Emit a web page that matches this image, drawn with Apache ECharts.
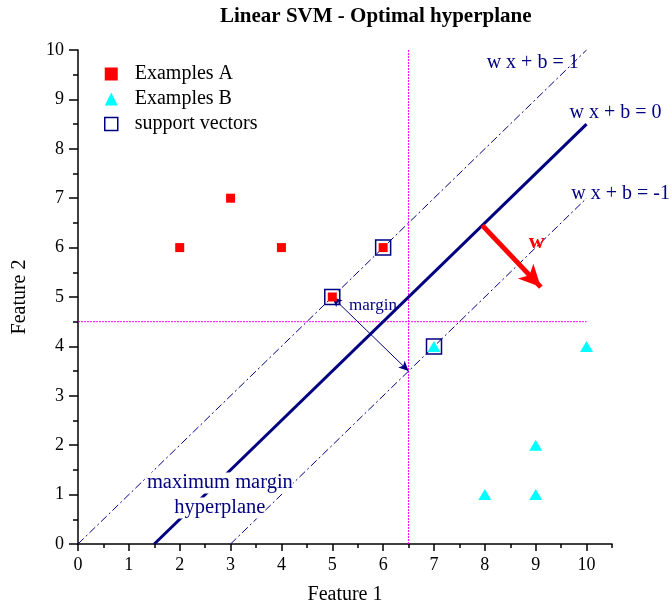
<!DOCTYPE html>
<html><head><meta charset="utf-8">
<script src="https://cdn.jsdelivr.net/npm/echarts@6/dist/echarts.min.js"></script>
<style>html,body{margin:0;padding:0;background:#fff}#c{width:672px;height:612px}</style>
</head><body><div id="c"></div>
<script>
// ---- data ----
const classAX = [2, 3, 4, 5, 6];
const classAY = [6, 7, 6, 5, 6];
const classBX = [7, 8, 9, 9, 10];
const classBY = [4, 1, 1, 2, 4];
const supportX = [5, 6, 7];
const supportY = [5, 6, 4];
const planeNames = ['w x + b = 1', 'w x + b = 0', 'w x + b = -1'];
const planeX0 = [0, 1.5, 3];
const planeY0 = [0, 0, 0];
const planeX1 = [10, 10, 10];
const planeY1 = [10, 8.5, 7];
const guideX = 6.5;
const guideY = 4.5;
const wArrowFrom = [7.95, 6.45];
const wArrowTo = [9.1, 5.2];
const marginFrom = [5, 5];
const marginTo = [6.5, 3.5];
const noteTexts = ['w x + b = 1', 'w x + b = 0', 'w x + b = -1', 'margin', 'w', 'maximum margin\nhyperplane'];
const noteX = [8.94, 10.57, 10.67, 5.80, 9.02, 2.79];
const noteY = [9.74, 8.72, 7.10, 4.82, 6.11, 0.98];

const NAVY = '#000080';
const FONT = 'Liberation Serif';
const zip = (a, b) => a.map((v, i) => [v, b[i]]);

const chart = echarts.init(document.getElementById('c'), null, {renderer: 'canvas'});

const planeSeries = planeNames.map((n, i) => ({
  type: 'line', name: n, xAxisIndex: 0, yAxisIndex: 0,
  data: [[planeX0[i], planeY0[i]], [planeX1[i], planeY1[i]]],
  showSymbol: false, silent: true, z: 3,
  lineStyle: i === 1 ? {color: NAVY, width: 3} : {color: NAVY, width: 1, type: [8, 3, 2, 3]}
}));

const noteData = noteTexts.map((t, i) => {
  const item = {value: [noteX[i], noteY[i]], label: {formatter: t, color: NAVY, fontSize: 20}};
  if (t === 'margin') item.label.fontSize = 17;
  if (t === 'w') { item.label.color = '#ff0000'; item.label.fontWeight = 'bold'; item.label.fontSize = 22; }
  if (t.indexOf('\n') >= 0) {
    item.label.formatter = t.split('\n').map(s => '{a|' + s + '}').join('\n');
    item.label.rich = {a: {backgroundColor: '#ffffff', color: NAVY, fontSize: 20.5, fontFamily: FONT, lineHeight: 25}};
  }
  return item;
});

const option = {
  animation: false,
  backgroundColor: '#ffffff',
  textStyle: {fontFamily: FONT},
  title: {
    text: 'Linear SVM - Optimal hyperplane', left: 215, top: 1,
    textStyle: {fontFamily: FONT, fontWeight: 'bold', fontSize: 21, color: '#000'}
  },
  legend: {
    orient: 'vertical', left: 99, top: 59, itemGap: 5, itemWidth: 13, itemHeight: 13,
    textStyle: {fontFamily: FONT, fontSize: 20, color: '#000', padding: [0, 0, 0, 12]},
    data: [
      {name: 'Examples A', icon: 'rect', itemStyle: {color: '#ff0000', opacity: 1}},
      {name: 'Examples B', icon: 'triangle', itemStyle: {color: '#00ffff', opacity: 1}},
      {name: 'support vectors', icon: 'rect', itemStyle: {color: '#ffffff', borderColor: NAVY, borderWidth: 1.5, opacity: 1}}
    ]
  },
  grid: {left: 78, right: 60, top: 50, bottom: 68, containLabel: false},
  xAxis: [{
    type: 'value', min: 0, max: 10.5, interval: 1, position: 'bottom',
    name: 'Feature 1', nameLocation: 'middle', nameGap: 41,
    nameTextStyle: {fontFamily: FONT, fontSize: 20, color: '#000'},
    axisLine: {show: true, lineStyle: {color: '#000', width: 1.5}},
    axisTick: {show: true, inside: false, length: 7, lineStyle: {color: '#000', width: 1.5}},
    axisLabel: {fontFamily: FONT, fontSize: 18, color: '#000', margin: 12, showMaxLabel: false,
      formatter: v => (Number.isInteger(v) ? String(v) : '')},
    splitLine: {show: false}
  }, {
    type: 'value', min: 0, max: 10.5, interval: 0.5, position: 'bottom', offset: 0,
    axisLine: {show: false},
    axisTick: {show: true, length: 4, lineStyle: {color: '#000', width: 1.5}},
    axisLabel: {show: false}, splitLine: {show: false}
  }],
  yAxis: {
    type: 'value', min: 0, max: 10, interval: 1,
    name: 'Feature 2', nameLocation: 'middle', nameGap: 48, nameRotate: 90,
    nameTextStyle: {fontFamily: FONT, fontSize: 20, color: '#000'},
    axisLine: {show: true, lineStyle: {color: '#000', width: 1.5}},
    axisTick: {show: true, inside: false, length: 9, lineStyle: {color: '#000', width: 1.5}},
    minorTick: {show: true, splitNumber: 2, length: 5, lineStyle: {color: '#000', width: 1.5}},
    axisLabel: {fontFamily: FONT, fontSize: 18, color: '#000', margin: 14},
    splitLine: {show: false}, minorSplitLine: {show: false}
  },
  series: [
    {
      type: 'line', name: 'guides', showSymbol: false, silent: true, z: 1,
      data: [[guideX, 0], [guideX, 10], null, [0, guideY], [10, guideY]],
      connectNulls: false,
      lineStyle: {color: '#ff00ff', width: 1, type: [2, 1]},
      markLine: {
        silent: true, animation: false, label: {show: false},
        data: [
          [{coord: wArrowFrom, symbol: 'none', lineStyle: {color: '#ff0000', width: 5, type: 'solid'}},
           {coord: wArrowTo, symbol: 'arrow', symbolSize: [16, 22]}],
          [{coord: marginFrom, symbol: 'arrow', symbolSize: [7, 10], lineStyle: {color: NAVY, width: 1, type: 'solid'}},
           {coord: marginTo, symbol: 'arrow', symbolSize: [7, 10]}]
        ]
      }
    },
    ...planeSeries,
    {type: 'scatter', name: 'Examples A', data: zip(classAX, classAY), symbol: 'rect', symbolSize: 9,
     itemStyle: {color: '#ff0000', opacity: 1}, z: 5},
    {type: 'scatter', name: 'Examples B', data: zip(classBX, classBY), symbol: 'triangle', symbolSize: [13, 11],
     itemStyle: {color: '#00ffff', opacity: 1}, z: 5},
    {type: 'scatter', name: 'support vectors', data: zip(supportX, supportY), symbol: 'rect', symbolSize: 15,
     itemStyle: {color: 'rgba(0,0,0,0)', borderColor: NAVY, borderWidth: 1.5, opacity: 1}, z: 6},
    {type: 'scatter', name: 'notes', data: noteData, symbolSize: 0, silent: true, z: 10, clip: false,
     itemStyle: {opacity: 1},
     label: {show: true, position: 'inside', fontFamily: FONT}}
  ]
};
chart.setOption(option);
</script></body></html>
